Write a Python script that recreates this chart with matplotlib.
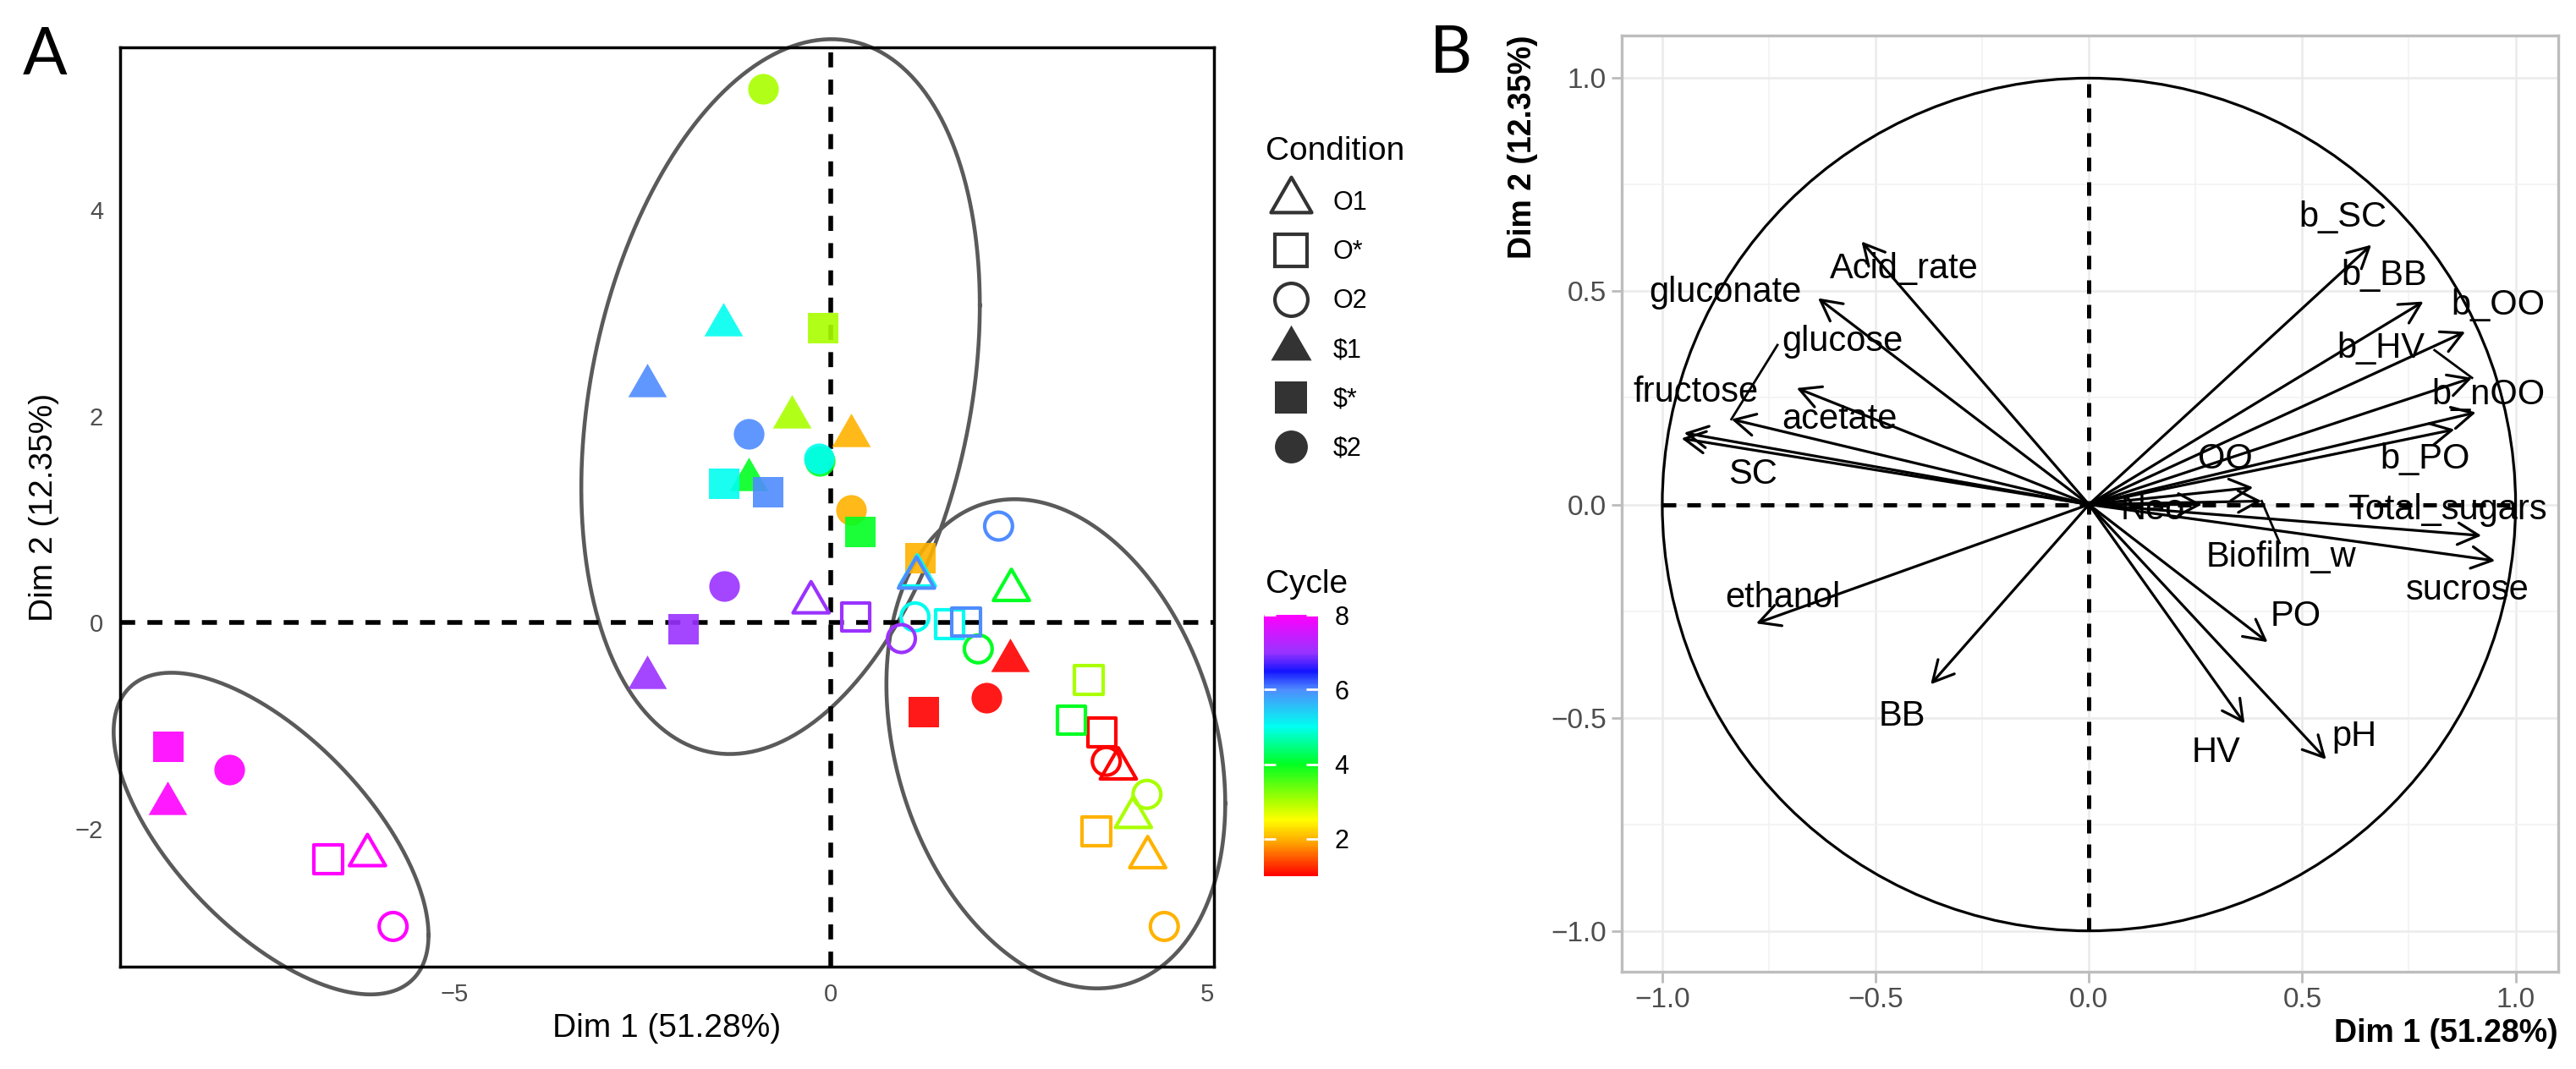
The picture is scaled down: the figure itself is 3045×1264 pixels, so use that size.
import numpy as np
import matplotlib
matplotlib.use("Agg")
import matplotlib.pyplot as plt
from matplotlib.colors import LinearSegmentedColormap, Normalize
from matplotlib.path import Path
from matplotlib.lines import Line2D
from matplotlib.patches import Circle
from matplotlib.cm import ScalarMappable

plt.rcParams['font.family'] = ['Liberation Sans', 'DejaVu Sans']

# --- Painel A: individuos (PCA) ---
CONDITIONS = ["O1", "O*", "O2", "$1", "$*", "$2"]
cycle = [1] * 6 + [2] * 6 + [3] * 6 + [4] * 6 + [5] * 6 + [6] * 6 + [7] * 6 + [8] * 6
condition = CONDITIONS * 8
dim1 = [3.82, 3.60, 3.66, 2.38, 1.24, 2.07,
        4.21, 3.53, 4.43, 0.27, 1.19, 0.27,
        4.02, 3.43, 4.20, -0.51, -0.10, -0.90,
        2.40, 3.20, 1.96, -1.09, 0.40, -0.14,
        1.15, 1.58, 1.12, -1.43, -1.41, -0.16,
        1.14, 1.80, 2.23, -2.44, -0.83, -1.09,
        -0.26, 0.33, 0.94, -2.44, -1.95, -1.41,
        -6.15, -6.67, -5.81, -8.80, -8.79, -7.99]
dim2 = [-1.42, -1.07, -1.35, -0.37, -0.87, -0.73,
        -2.28, -2.03, -2.95, 1.81, 0.62, 1.09,
        -1.89, -0.56, -1.67, 1.99, 2.85, 5.17,
        0.31, -0.95, -0.26, 1.38, 0.87, 1.56,
        0.45, -0.02, 0.05, 2.88, 1.34, 1.59,
        0.43, 0.00, 0.93, 2.29, 1.26, 1.82,
        0.19, 0.05, -0.16, -0.54, -0.07, 0.35,
        -2.26, -2.30, -2.95, -1.76, -1.21, -1.43]

# elipses dos grupos: centro e (Sxx, Syy, Sxy)
ellipse_centers = [(-0.665, 2.185), (2.99, -1.18), (-7.43, -2.05)]
ellipse_cov = [(7.0, 12.0, 2.34), (5.06, 5.62, -1.30), (4.37, 2.43, -2.06)]

# escala de cor do ciclo
cycle_nodes = [1, 1.9, 2.5, 3, 4, 5, 6, 6.5, 7, 8]
cycle_colors = ['#FF0000', '#FFA500', '#FFFF00', '#AAFF00', '#00FF22',
                '#00FFF0', '#4F8CFF', '#1414FF', '#9933FF', '#FF00FF']

# --- Painel B: variaveis ---
var_names = ["b_SC", "b_BB", "b_OO", "b_HV", "b_nOO", "b_PO", "OO", "Neo",
             "Total_sugars", "Biofilm_w", "sucrose", "PO", "pH", "HV", "BB",
             "ethanol", "SC", "acetate", "fructose", "glucose", "gluconate",
             "Acid_rate"]
var_dim1 = [0.662, 0.784, 0.882, 0.898, 0.907, 0.857, 0.385, 0.265,
            0.920, 0.405, 0.952, 0.419, 0.556, 0.365, -0.371,
            -0.780, -0.955, -0.685, -0.949, -0.838, -0.635, -0.533]
var_dim2 = [0.609, 0.476, 0.405, 0.297, 0.216, 0.176, 0.040, 0.000,
            -0.073, 0.008, -0.132, -0.323, -0.598, -0.514, -0.422,
            -0.279, 0.155, 0.273, 0.168, 0.200, 0.484, 0.617]

# posicao dos rotulos (repel)
label_pos = {
    "b_SC": (0.596, 0.674), "b_BB": (0.692, 0.536), "b_OO": (0.958, 0.468),
    "b_HV": (0.685, 0.366), "b_nOO": (0.937, 0.257), "b_PO": (0.787, 0.107),
    "OO": (0.320, 0.107), "Neo": (0.150, -0.012), "Total_sugars": (0.840, -0.012),
    "Biofilm_w": (0.450, -0.124), "sucrose": (0.888, -0.201), "PO": (0.485, -0.262),
    "pH": (0.622, -0.544), "HV": (0.298, -0.582), "BB": (-0.438, -0.497),
    "ethanol": (-0.717, -0.220), "SC": (-0.787, 0.070), "acetate": (-0.584, 0.200),
    "fructose": (-0.921, 0.262), "glucose": (-0.577, 0.382),
    "gluconate": (-0.853, 0.497), "Acid_rate": (-0.434, 0.553),
}
# segmentos ligando rotulo -> seta
repel_segments = {
    "glucose": (-0.730, 0.374),
    "b_HV": (0.810, 0.362),
    "Biofilm_w": (0.447, -0.090),
}

W, H = 3045, 1264
fig = plt.figure(figsize=(W / 100, H / 100), dpi=100)

cmap = LinearSegmentedColormap.from_list(
    "cycle", [((v - 1) / 7, c) for v, c in zip(cycle_nodes, cycle_colors)])
norm = Normalize(1, 8)

tri = Path([(0, 1), (-0.866, -0.5), (0.866, -0.5), (0, 1)],
           [Path.MOVETO, Path.LINETO, Path.LINETO, Path.CLOSEPOLY])
shape_of = {"O1": (tri, False), "O*": ("s", False), "O2": ("o", False),
            "$1": (tri, True), "$*": ("s", True), "$2": ("o", True)}
size_of = {"o": 680, "s": 700}

# ---------- Painel A ----------
axA = fig.add_axes([141.5 / W, 1 - 1143 / H, (1435 - 141.5) / W, (1143 - 56) / H])
axA.set_xlim(-9.44, 5.09)
axA.set_ylim(-3.34, 5.57)
axA.axhline(0, color='black', lw=4, ls=(0, (3.2, 2.6)), zorder=2)
axA.axvline(0, color='black', lw=4, ls=(0, (3.2, 2.6)), zorder=2)

t = np.linspace(0, 2 * np.pi, 400)
for (cx, cy), (sxx, syy, sxy) in zip(ellipse_centers, ellipse_cov):
    L = np.linalg.cholesky(np.array([[sxx, sxy], [sxy, syy]]))
    pts = L @ np.vstack([np.cos(t), np.sin(t)])
    axA.plot(cx + pts[0], cy + pts[1], color='#5A5A5A', lw=3.3,
             clip_on=False, zorder=1)

for x, y, c, cond in zip(dim1, dim2, cycle, condition):
    mk, filled = shape_of[cond]
    col = cmap(norm(c))
    if mk is tri:
        s = 1444 if filled else 1250
    else:
        s = size_of[mk] if filled else size_of[mk] - 120
    if filled:
        axA.scatter([x], [y], marker=mk, s=s, color=col, alpha=0.9,
                    linewidths=0, zorder=3)
    else:
        axA.scatter([x], [y], marker=mk, s=s, facecolors='none',
                    edgecolors=[col], linewidths=3.0, zorder=3)

axA.set_xticks([-5, 0, 5])
axA.set_yticks([-2, 0, 2, 4])
axA.tick_params(length=0, labelsize=21, labelcolor='#4D4D4D', pad=14)
for sp in axA.spines.values():
    sp.set_linewidth(2.5)
    sp.set_color('black')
axA.set_xlabel("Dim 1 (51.28%)", fontsize=28)
axA.set_ylabel("Dim 2 (12.35%)", fontsize=28)
axA.xaxis.set_label_coords(0.5, -0.0506)
axA.yaxis.set_label_coords(-0.0553, 0.5)

# legenda de forma
leg_col = '#333333'
handles = []
for cond in CONDITIONS:
    mk, filled = shape_of[cond]
    ms = 40 if mk is tri else 28
    handles.append(Line2D([], [], ls='none', marker=mk, markersize=ms,
                          markerfacecolor=leg_col if filled else 'none',
                          markeredgecolor=leg_col,
                          markeredgewidth=0 if filled else 3.0))
labels = [c.replace("$", r"\$") for c in CONDITIONS]
fig.legend(handles, labels, loc='upper left',
           bbox_to_anchor=(1496 / W, 1 - 161 / H), bbox_transform=fig.transFigure,
           frameon=False, title="Condition", title_fontsize=28, fontsize=22,
           alignment='left', labelspacing=0.92, handlelength=1.96,
           handletextpad=0.65, borderpad=0, borderaxespad=0)

# barra de cor
cax = fig.add_axes([1494 / W, 1 - 1036 / H, 64 / W, (1036 - 727) / H])
cb = fig.colorbar(ScalarMappable(norm=norm, cmap=cmap), cax=cax, ticks=[2, 4, 6, 8])
cb.outline.set_visible(False)
cax.tick_params(direction='in', color='white', length=10, width=2,
                left=True, right=True, labelsize=22, pad=14)
fig.text(1496 / W, 1 - 691 / H, "Cycle", fontsize=28, ha='left', va='center')

# ---------- Painel B ----------
axB = fig.add_axes([1917 / W, 1 - 1148.5 / H, (3024 - 1917) / W, (1148.5 - 42) / H])
axB.set_xlim(-1.095, 1.1)
axB.set_ylim(-1.095, 1.1)
ticks = [-1, -0.5, 0, 0.5, 1]
tick_txt = ["\u22121.0", "\u22120.5", "0.0", "0.5", "1.0"]
axB.set_xticks(ticks)
axB.set_xticklabels(tick_txt)
axB.set_yticks(ticks)
axB.set_yticklabels(tick_txt)
axB.set_xticks([-0.75, -0.25, 0.25, 0.75], minor=True)
axB.set_yticks([-0.75, -0.25, 0.25, 0.75], minor=True)
axB.tick_params(which='major', length=9, width=2, color='#BBBBBB',
                labelsize=24, labelcolor='#4D4D4D', pad=4)
axB.tick_params(which='minor', length=0)
axB.grid(which='major', color='#EBEBEB', lw=1.8)
axB.grid(which='minor', color='#F2F2F2', lw=1.2)
axB.set_axisbelow(True)
for sp in axB.spines.values():
    sp.set_linewidth(2.4)
    sp.set_color('#BDBDBD')

axB.plot([-1, 1], [0, 0], color='black', lw=3.6, ls=(0, (3.2, 2.6)), zorder=2)
axB.plot([0, 0], [-1, 1], color='black', lw=3.6, ls=(0, (3.2, 2.6)), zorder=2)
axB.add_patch(Circle((0, 0), 1, fill=False, color='black', lw=2.3, zorder=2))

for name, x, y in zip(var_names, var_dim1, var_dim2):
    axB.annotate("", xy=(x, y), xytext=(0, 0),
                 arrowprops=dict(arrowstyle="->,head_length=0.8,head_width=0.42",
                                 color='black', lw=2.3, shrinkA=0, shrinkB=0,
                                 mutation_scale=22), zorder=3)
    if name in repel_segments:
        sx, sy = repel_segments[name]
        axB.plot([sx, x], [sy, y], color='black', lw=2.0, zorder=3)
    lx, ly = label_pos[name]
    axB.text(lx, ly, name, fontsize=30, ha='center', va='center', zorder=4)

axB.set_xlabel("Dim 1 (51.28%)", fontsize=27, fontweight='bold', loc='right')
axB.set_ylabel("Dim 2 (12.35%)", fontsize=27, fontweight='bold', loc='top')
axB.xaxis.set_label_coords(1.0, -0.0502)
axB.yaxis.set_label_coords(-0.0894, 1.0)

fig.text(27 / W, 1 - 88 / H, "A", fontsize=56, family='Lato', va='baseline', ha='left')
fig.text(1690 / W, 1 - 86 / H, "B", fontsize=56, family='Lato', va='baseline', ha='left')

fig.savefig("out.png", dpi=100, facecolor='white')
